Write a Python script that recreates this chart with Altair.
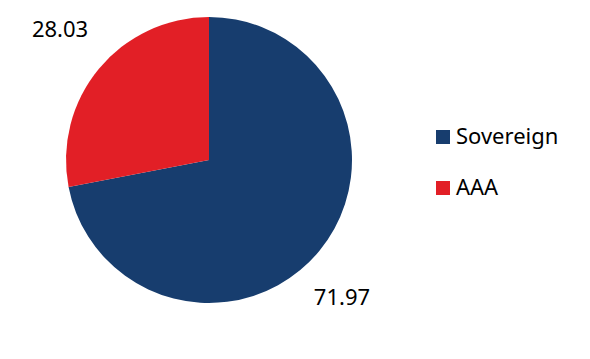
import altair as alt
import pandas as pd

categories = ["Sovereign", "AAA"]
values = [71.97, 28.03]
labels = ["71.97", "28.03"]
colors = ["#173D6E", "#E21F26"]

df = pd.DataFrame({"category": categories, "value": values, "label": labels,
                   "order": [0, 1]})

FONT = "Noto Sans"
CX, CY, R = 209, 160, 143

arc = alt.Chart(df).mark_arc(outerRadius=R).encode(
    theta=alt.Theta("value:Q", stack=True),
    order=alt.Order("order:Q"),
    x=alt.value(CX), y=alt.value(CY),
    color=alt.Color(
        "category:N",
        scale=alt.Scale(domain=categories, range=colors),
        sort=categories,
        legend=alt.Legend(
            title=None, orient="none", legendX=432, legendY=126,
            symbolType="square", symbolSize=196, symbolStrokeWidth=0,
            labelFont=FONT, labelFontSize=22, labelColor="#000000",
            rowPadding=29, labelOffset=2, symbolOpacity=1,
        ),
    )
)

lab_base = alt.Chart(df).transform_stack(
    stack="value", groupby=[], as_=["v0", "v1"], sort=[alt.SortField("order")]
).transform_calculate(
    mid="(datum.v0 + datum.v1) / 2"
).encode(
    theta=alt.Theta("mid:Q", scale=alt.Scale(domain=[0, 100], range=[0, 6.283185307179586])),
    x=alt.value(CX), y=alt.value(CY),
    text="label:N",
)

lab_blue = lab_base.transform_filter(alt.datum.category == "Sovereign").mark_text(
    radius=175, dy=27, dx=-2, font=FONT, fontSize=22, color="#000000")

lab_red = lab_base.transform_filter(alt.datum.category == "AAA").mark_text(
    radius=175, dx=-14, dy=-19, font=FONT, fontSize=22, color="#000000")

chart = alt.layer(arc, lab_blue, lab_red).properties(
    width=590, height=359,
    autosize=alt.AutoSizeParams(type="none"),
    padding=0,
).configure_view(stroke=None)

chart.save("out.html", embed_options={"renderer": "svg", "actions": False})
